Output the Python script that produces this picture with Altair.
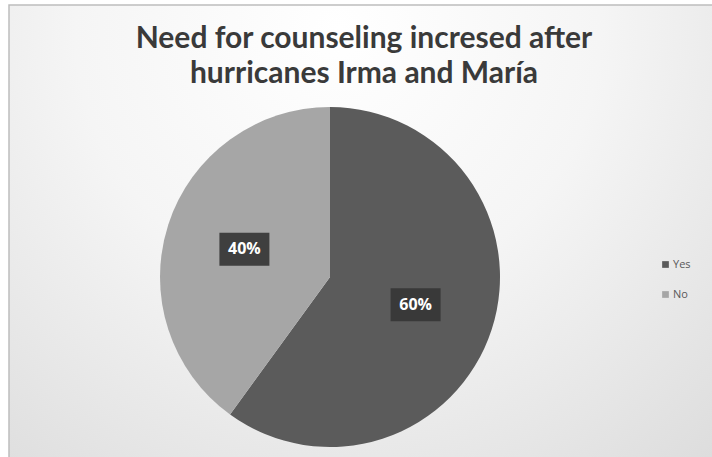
import altair as alt
import pandas as pd

categories = ["Yes", "No"]
values = [60, 40]
labels = ["60%", "40%"]
colors = ["#5b5b5b", "#a6a6a6"]
title_lines = ["Need for counseling incresed after", "hurricanes Irma and María"]

W, H = 712, 457
CX, CY, R = 330, 277, 170
LR = 90

pie_df = pd.DataFrame({"category": categories, "value": values, "label": labels,
                       "order": list(range(len(categories)))})
title_df = pd.DataFrame({"line": title_lines, "i": list(range(len(title_lines)))})
dummy = pd.DataFrame({"a": [0]})

bg = alt.Chart(dummy).mark_rect(
    fill={"gradient": "radial", "x1": 0.45, "y1": 0.2, "r1": 0, "x2": 0.45, "y2": 0.2, "r2": 0.9,
          "stops": [{"offset": 0, "color": "#ffffff"}, {"offset": 0.4, "color": "#f5f5f5"},
                    {"offset": 1, "color": "#d6d6d6"}]},
    stroke="#bdbdbd", strokeWidth=1.5,
).encode(x=alt.value(9), x2=alt.value(740), y=alt.value(5), y2=alt.value(490))

base = alt.Chart(pie_df)

arc = base.mark_arc(outerRadius=R).encode(
    theta=alt.Theta("value:Q", stack=True),
    color=alt.Color("category:N", sort=categories,
                    scale=alt.Scale(domain=categories, range=colors),
                    legend=alt.Legend(orient="none", legendX=660, legendY=259, title=None,
                                      symbolType="square", symbolSize=45, symbolStrokeWidth=0,
                                      labelFontSize=11, labelFont="Open Sans", labelColor="#595959",
                                      rowPadding=18, labelOffset=2)),
    order=alt.Order("order:Q"),
    x=alt.value(CX), y=alt.value(CY),
)

pos = base.transform_joinaggregate(total="sum(value)").transform_window(
    cum="sum(value)", sort=[alt.SortField("order")]
).transform_calculate(
    mid="(datum.cum - datum.value/2) / datum.total * 2 * PI",
).transform_calculate(
    px=f"{CX} + {LR} * sin(datum.mid)",
    py=f"{CY} - {LR} * cos(datum.mid)",
).transform_calculate(
    bx1="datum.px - 25", bx2="datum.px + 25", by1="datum.py - 16.5", by2="datum.py + 16.5",
)

boxes = pos.mark_rect(fill="#363636", opacity=0.92).encode(
    x=alt.X("bx1:Q", scale=None), x2="bx2:Q",
    y=alt.Y("by1:Q", scale=None), y2="by2:Q",
)

texts = pos.mark_text(font="Open Sans", fontSize=16, fontWeight="bold", color="#ffffff",
                      align="center", baseline="middle").encode(
    x=alt.X("px:Q", scale=None), y=alt.Y("py:Q", scale=None), text="label:N",
)

title = alt.Chart(title_df).transform_calculate(ty="48 + datum.i * 35").mark_text(
    font="Lato", fontSize=30, fontWeight="bold", color="#3a3a3a", align="center",
    baseline="alphabetic",
).encode(x=alt.value(364), y=alt.Y("ty:Q", scale=None), text="line:N")

chart = alt.layer(bg, arc, boxes, texts, title).properties(
    width=W, height=H, autosize=alt.AutoSizeParams(type="none"), padding=0,
).configure_view(stroke=None)

chart.save("out.html", embed_options={"renderer": "svg", "actions": False})
